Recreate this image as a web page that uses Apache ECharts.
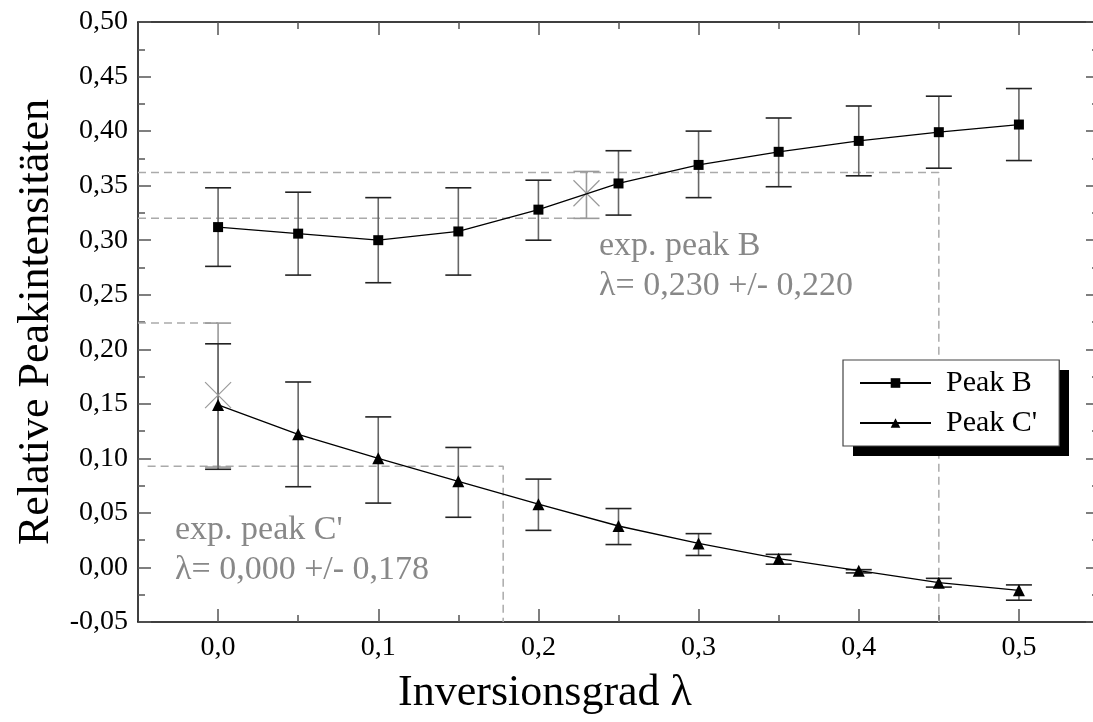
<!DOCTYPE html>
<html>
<head>
<meta charset="utf-8">
<script src="https://cdn.jsdelivr.net/npm/echarts@6/dist/echarts.min.js"></script>
<style>
  html, body { margin: 0; padding: 0; background: #fff; }
  #chart { width: 1093px; height: 722px; }
</style>
</head>
<body>
<div id="chart"></div>
<script>
// ---- data ----
const lambdaValues = [0.00, 0.05, 0.10, 0.15, 0.20, 0.25, 0.30, 0.35, 0.40, 0.45, 0.50];

const peakB     = [0.312, 0.306, 0.300, 0.308, 0.328, 0.352, 0.369, 0.381, 0.391, 0.399, 0.406];
const peakBHigh = [0.348, 0.344, 0.339, 0.348, 0.355, 0.382, 0.400, 0.412, 0.423, 0.432, 0.439];
const peakBLow  = [0.276, 0.268, 0.261, 0.268, 0.300, 0.323, 0.339, 0.349, 0.359, 0.366, 0.373];

const peakC     = [0.149, 0.122, 0.100, 0.079, 0.058, 0.038, 0.022, 0.008, -0.003, -0.014, -0.021];
const peakCHigh = [0.205, 0.170, 0.138, 0.110, 0.081, 0.054, 0.031, 0.012, -0.002, -0.010, -0.016];
const peakCLow  = [0.090, 0.074, 0.059, 0.046, 0.034, 0.021, 0.011, 0.003, -0.005, -0.018, -0.030];

// experimental peaks (x = lambda, y = intensity, low/high)
const expX    = [0.230, 0.000];
const expY    = [0.343, 0.158];
const expLow  = [0.320, 0.092];
const expHigh = [0.363, 0.224];

// dashed guide lines
const guideBUpperX = [-0.05, 0.45, 0.45];
const guideBUpperY = [0.362, 0.362, -0.05];
const guideBLowerX = [-0.05, 0.23];
const guideBLowerY = [0.320, 0.320];
const guideCUpperX = [-0.05, 0.0];
const guideCUpperY = [0.224, 0.224];
const guideCLowerX = [-0.044, 0.178, 0.178];
const guideCLowerY = [0.0927, 0.0927, -0.05];

const xMajorTicks = [0.0, 0.1, 0.2, 0.3, 0.4, 0.5];
const xMinorTicks = [0.05, 0.15, 0.25, 0.35, 0.45];

const annotB = ['exp. peak B', 'λ= 0,230 +/- 0,220'];
const annotC = ["exp. peak C'", 'λ= 0,000 +/- 0,178'];

// ---- chart ----
const FONT = "'Liberation Serif', 'DejaVu Serif', serif";
const zip = (xs, ys) => xs.map((x, i) => [x, ys[i]]);

function errorBars(name, xs, lows, highs, color, capColor, capHalf, z) {
  return {
    type: 'custom', name: name, xAxisIndex: 0, yAxisIndex: 0, z: z, silent: true,
    data: xs.map((x, i) => [x, lows[i], highs[i]]),
    encode: { x: 0, y: [1, 2] },
    renderItem: function (params, api) {
      const lo = api.coord([api.value(0), api.value(1)]);
      const hi = api.coord([api.value(0), api.value(2)]);
      const st = { stroke: color, lineWidth: 1.6 };
      const cs = { stroke: capColor, lineWidth: 1.6 };
      return { type: 'group', children: [
        { type: 'line', shape: { x1: lo[0], y1: lo[1], x2: hi[0], y2: hi[1] }, style: st },
        { type: 'line', shape: { x1: lo[0] - capHalf, y1: lo[1], x2: lo[0] + capHalf, y2: lo[1] }, style: cs },
        { type: 'line', shape: { x1: hi[0] - capHalf, y1: hi[1], x2: hi[0] + capHalf, y2: hi[1] }, style: cs }
      ]};
    }
  };
}

function guide(xs, ys) {
  return {
    type: 'line', xAxisIndex: 0, yAxisIndex: 0, data: zip(xs, ys), symbol: 'none', silent: true, z: 1,
    lineStyle: { color: '#aaaaaa', width: 1.5, type: [8, 5] }, animation: false
  };
}

const axisTickStyle = { color: '#555', width: 1.5 };
const frameLine = { show: true, onZero: false, lineStyle: { color: '#000', width: 1.5 } };

const option = {
  animation: false,
  backgroundColor: '#ffffff',
  grid: { left: 138, top: 22, width: 961, bottom: 100, containLabel: false, outerBoundsMode: 'none' },
  xAxis: [
    {
      type: 'value', position: 'bottom', min: -0.05, max: 0.55,
      name: 'Inversionsgrad λ', nameLocation: 'middle', nameGap: 49,
      nameTextStyle: { fontFamily: FONT, fontSize: 44, color: '#000', padding: [0, 147, 0, 0] },
      axisLine: frameLine,
      axisTick: { show: true, inside: true, length: 13, lineStyle: axisTickStyle, customValues: xMajorTicks },
      axisLabel: { show: true, customValues: xMajorTicks, margin: 12, fontFamily: FONT, fontSize: 28, color: '#000',
        formatter: v => v.toFixed(1).replace('.', ',') },
      splitLine: { show: false }
    },
    {
      type: 'value', position: 'bottom', min: -0.05, max: 0.55,
      axisLine: { show: false, onZero: false },
      axisTick: { show: true, inside: true, length: 7, lineStyle: axisTickStyle, customValues: xMinorTicks },
      axisLabel: { show: false }, splitLine: { show: false }
    },
    {
      type: 'value', position: 'top', min: -0.05, max: 0.55,
      axisLine: frameLine,
      axisTick: { show: true, inside: true, length: 13, lineStyle: axisTickStyle, customValues: xMajorTicks },
      axisLabel: { show: false }, splitLine: { show: false }
    },
    {
      type: 'value', position: 'top', min: -0.05, max: 0.55,
      axisLine: { show: false, onZero: false },
      axisTick: { show: true, inside: true, length: 7, lineStyle: axisTickStyle, customValues: xMinorTicks },
      axisLabel: { show: false }, splitLine: { show: false }
    }
  ],
  yAxis: [
    {
      type: 'value', position: 'left', min: -0.05, max: 0.50, interval: 0.05,
      name: 'Relative Peakintensitäten', nameLocation: 'middle', nameGap: 78, nameRotate: 90,
      nameTextStyle: { fontFamily: FONT, fontSize: 44, color: '#000' },
      axisLine: frameLine,
      axisTick: { show: true, inside: true, length: 13, lineStyle: axisTickStyle },
      minorTick: { show: true, splitNumber: 2, length: 7, lineStyle: axisTickStyle },
      axisLabel: { margin: 10, fontFamily: FONT, fontSize: 28, color: '#000',
        formatter: v => v.toFixed(2).replace('.', ',') },
      splitLine: { show: false }, minorSplitLine: { show: false }
    },
    {
      type: 'value', position: 'right', min: -0.05, max: 0.50, interval: 0.05,
      axisLine: frameLine,
      axisTick: { show: true, inside: true, length: 13, lineStyle: axisTickStyle },
      minorTick: { show: true, splitNumber: 2, length: 7, lineStyle: axisTickStyle },
      axisLabel: { show: false }, splitLine: { show: false }
    }
  ],
  legend: {
    data: ['Peak B', "Peak C'"],
    orient: 'vertical', left: 843, top: 360, z: 20,
    itemWidth: 71, itemHeight: 12, itemGap: 6,
    padding: [6, 22, 6, 16],
    backgroundColor: '#fff', borderColor: '#444', borderWidth: 1.2,
    textStyle: { fontFamily: FONT, fontSize: 30, color: '#000', lineHeight: 34, padding: [0, 0, 0, 10] },
    selectedMode: false
  },
  graphic: [
    { type: 'rect', left: 853, top: 370, z: 5,
      shape: { width: 216, height: 86 }, style: { fill: '#000' } },
    { type: 'text', left: 599, top: 226, z: 10,
      style: { text: annotB.join('\n'), font: '34px ' + FONT, fill: '#888', lineHeight: 40 } },
    { type: 'text', left: 175, top: 510, z: 10,
      style: { text: annotC.join('\n'), font: '34px ' + FONT, fill: '#888', lineHeight: 40 } }
  ],
  series: [
    guide(guideBUpperX, guideBUpperY),
    guide(guideBLowerX, guideBLowerY),
    guide(guideCUpperX, guideCUpperY),
    guide(guideCLowerX, guideCLowerY),
    errorBars('expErr', expX, expLow, expHigh, '#9a9a9a', '#9a9a9a', 13, 2),
    errorBars('errB', lambdaValues, peakBLow, peakBHigh, '#666', '#222', 13, 3),
    errorBars('errC', lambdaValues, peakCLow, peakCHigh, '#666', '#222', 13, 3),
    {
      type: 'custom', name: 'expPeaks', xAxisIndex: 0, yAxisIndex: 0, z: 4, silent: true,
      data: zip(expX, expY),
      encode: { x: 0, y: 1 },
      renderItem: function (params, api) {
        const p = api.coord([api.value(0), api.value(1)]);
        const h = 13;
        const st = { stroke: '#999', lineWidth: 1.2 };
        return { type: 'group', children: [
          { type: 'line', shape: { x1: p[0] - h, y1: p[1] - h, x2: p[0] + h, y2: p[1] + h }, style: st },
          { type: 'line', shape: { x1: p[0] - h, y1: p[1] + h, x2: p[0] + h, y2: p[1] - h }, style: st }
        ]};
      }
    },
    {
      name: 'Peak B', type: 'line', xAxisIndex: 0, yAxisIndex: 0, z: 5,
      data: zip(lambdaValues, peakB),
      symbol: 'rect', symbolSize: 10,
      lineStyle: { color: '#000', width: 1.3 },
      itemStyle: { color: '#000' }
    },
    {
      name: "Peak C'", type: 'line', xAxisIndex: 0, yAxisIndex: 0, z: 5,
      data: zip(lambdaValues, peakC),
      symbol: 'triangle', symbolSize: 12,
      lineStyle: { color: '#000', width: 1.3 },
      itemStyle: { color: '#000' }
    }
  ]
};

const chart = echarts.init(document.getElementById('chart'), null, { renderer: 'canvas' });
chart.setOption(option);
</script>
</body>
</html>
